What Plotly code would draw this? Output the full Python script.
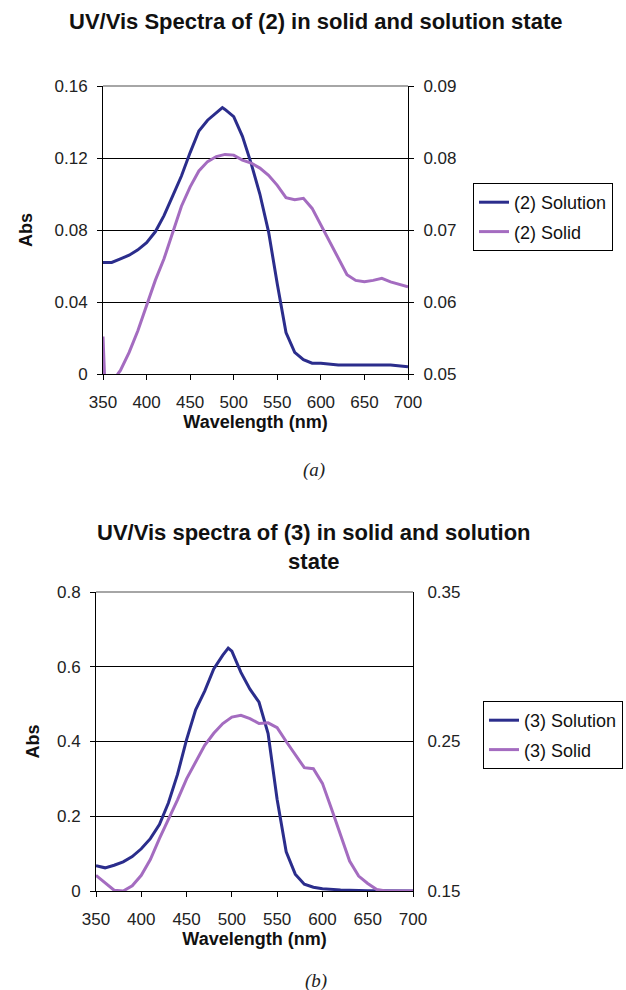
import plotly.graph_objects as go

# ---------------- data (a): compound (2) ----------------
wl_sol2 = [350, 360, 370, 380, 390, 400, 410, 420, 430, 440, 450, 460, 470, 480, 487, 490,
           500, 510, 520, 530, 540, 550, 560, 570, 580, 590, 600, 620, 640, 660, 680, 700]
abs_sol2 = [0.062, 0.062, 0.064, 0.066, 0.069, 0.073, 0.079, 0.088, 0.099, 0.110, 0.123, 0.135,
            0.141, 0.145, 0.148, 0.147, 0.143, 0.132, 0.117, 0.100, 0.079, 0.050, 0.023, 0.012,
            0.008, 0.006, 0.006, 0.005, 0.005, 0.005, 0.005, 0.004]

wl_solid2 = [350, 353, 360, 367, 370, 380, 390, 400, 410, 420, 430, 440, 450, 460, 470, 480, 490,
             500, 510, 520, 530, 540, 550, 560, 570, 580, 590, 600, 610, 620, 630, 640, 650,
             660, 670, 680, 690, 700]
abs_solid2 = [0.0552, 0.0460, 0.0475, 0.0500, 0.0505, 0.0530, 0.0560, 0.0594, 0.0630, 0.0660,
              0.0695, 0.0733, 0.0760, 0.0782, 0.0795, 0.0802, 0.0805, 0.0804, 0.0797, 0.0793,
              0.0786, 0.0776, 0.0762, 0.0745, 0.0742, 0.0744, 0.0730, 0.0707, 0.0683, 0.0660,
              0.0638, 0.0630, 0.0628, 0.0630, 0.0633, 0.0628, 0.0625, 0.0621]

# ---------------- data (b): compound (3) ----------------
wl_sol3 = [350, 360, 370, 380, 390, 400, 410, 420, 430, 440, 450, 460, 470, 480, 490, 496,
           500, 510, 520, 530, 540, 550, 560, 570, 580, 590, 600, 620, 650, 700]
abs_sol3 = [0.068, 0.062, 0.069, 0.078, 0.092, 0.113, 0.140, 0.178, 0.236, 0.312, 0.405, 0.485,
            0.535, 0.594, 0.631, 0.650, 0.642, 0.585, 0.540, 0.505, 0.421, 0.245, 0.105, 0.045,
            0.018, 0.010, 0.006, 0.003, 0.001, 0.000]

wl_solid3 = [350, 360, 370, 380, 390, 400, 410, 420, 430, 440, 450, 460, 470, 480, 490, 500,
             510, 520, 530, 540, 550, 560, 570, 580, 590, 600, 610, 620, 630, 640, 650, 660,
             670, 700]
abs_solid3 = [0.1605, 0.1555, 0.1505, 0.1500, 0.1535, 0.1605, 0.1710, 0.1850, 0.1975, 0.2110,
              0.2250, 0.2363, 0.2475, 0.2555, 0.2620, 0.2663, 0.2675, 0.2653, 0.2620, 0.2625,
              0.2593, 0.2500, 0.2415, 0.2325, 0.2318, 0.2220, 0.2050, 0.1880, 0.1700, 0.1600,
              0.1550, 0.1510, 0.1500, 0.1500]

x_ticks = [350, 400, 450, 500, 550, 600, 650, 700]
left_ticks_a = [0, 0.04, 0.08, 0.12, 0.16]
right_ticks_a = [0.05, 0.06, 0.07, 0.08, 0.09]
left_ticks_b = [0, 0.2, 0.4, 0.6, 0.8]
right_ticks_b = [0.15, 0.25, 0.35]

names = ["(2) Solution", "(2) Solid", "(3) Solution", "(3) Solid"]
titles = ["<b>UV/Vis Spectra of (2) in solid and solution state</b>",
          "<b>UV/Vis spectra of (3) in solid and solution<br>state</b>"]
captions = ["<i>(a)</i>", "<i>(b)</i>"]

W, H = 626, 990
NAVY = "#2B2D8C"
LILAC = "#A46CC0"
TICKFONT = dict(family="Liberation Sans, Arial", size=17, color="#222")
TITLEFONT = dict(family="Liberation Sans, Arial", size=18, color="#111")
LEGFONT = dict(family="Liberation Sans, Arial", size=18, color="#111")


def px(x):
    return x / W


def py(y):
    return 1 - y / H


fig = go.Figure()
fig.add_trace(go.Scatter(x=wl_sol2, y=abs_sol2, name=names[0], mode="lines", legendgroup="a1",
                         line=dict(color=NAVY, width=3), xaxis="x", yaxis="y", legend="legend"))
fig.add_trace(go.Scatter(x=wl_solid2, y=abs_solid2, name=names[1], mode="lines", legendgroup="a2",
                         line=dict(color=LILAC, width=3), xaxis="x", yaxis="y2", legend="legend"))
fig.add_trace(go.Scatter(x=wl_sol3, y=abs_sol3, name=names[2], mode="lines", legendgroup="b1",
                         line=dict(color=NAVY, width=3), xaxis="x2", yaxis="y3", legend="legend2"))
fig.add_trace(go.Scatter(x=wl_solid3, y=abs_solid3, name=names[3], mode="lines", legendgroup="b2",
                         line=dict(color=LILAC, width=3), xaxis="x2", yaxis="y4", legend="legend2"))

common_x = dict(range=[350, 700], tickvals=x_ticks, showline=True, linecolor="black", linewidth=1,
                ticks="outside", ticklen=5, tickcolor="black", showgrid=False, zeroline=False,
                tickfont=TICKFONT, title_font=TITLEFONT, ticklabelstandoff=8)
common_y = dict(showline=True, linecolor="black", linewidth=1, ticks="outside", ticklen=5,
                tickcolor="black", zeroline=False, tickfont=TICKFONT, title_font=TITLEFONT,
                ticklabelstandoff=6)

fig.update_layout(
    width=W, height=H,
    margin=dict(l=0, r=0, t=0, b=0, autoexpand=False),
    paper_bgcolor="white", plot_bgcolor="white",
    xaxis=dict(common_x, domain=[px(103), px(408)], anchor="y",
               title=dict(text="<b>Wavelength (nm)</b>", standoff=0)),
    yaxis=dict(common_y, domain=[py(374), py(86)], anchor="x", range=[0, 0.16],
               tickvals=left_ticks_a, ticktext=["0", "0.04", "0.08", "0.12", "0.16"],
               showgrid=True, gridcolor="black", gridwidth=1,
               title=dict(text="<b>Abs</b>", standoff=17)),
    yaxis2=dict(common_y, overlaying="y", side="right", anchor="x", range=[0.05, 0.09],
                tickvals=right_ticks_a, ticktext=["0.05", "0.06", "0.07", "0.08", "0.09"],
                showgrid=False),
    xaxis2=dict(common_x, domain=[px(96), px(413)], anchor="y3",
                title=dict(text="<b>Wavelength (nm)</b>", standoff=0)),
    yaxis3=dict(common_y, domain=[py(891), py(592)], anchor="x2", range=[0, 0.8],
                tickvals=left_ticks_b, ticktext=["0", "0.2", "0.4", "0.6", "0.8"],
                showgrid=True, gridcolor="black", gridwidth=1,
                title=dict(text="<b>Abs</b>", standoff=12)),
    yaxis4=dict(common_y, overlaying="y3", side="right", anchor="x2", range=[0.15, 0.35],
                tickvals=right_ticks_b, ticktext=["0.15", "0.25", "0.35"],
                showgrid=False, ticks="", ticklabelstandoff=10),
    legend=dict(x=px(473), y=py(183), xanchor="left", yanchor="top",
                bordercolor="black", borderwidth=1, bgcolor="white",
                font=LEGFONT, tracegroupgap=3, itemwidth=30),
    legend2=dict(x=px(483), y=py(701), xanchor="left", yanchor="top",
                 bordercolor="black", borderwidth=1, bgcolor="white",
                 font=LEGFONT, tracegroupgap=3, itemwidth=30),
    showlegend=True,
)

# gray top borders of the plot frames
for xr, yr in (("x domain", "y domain"), ("x2 domain", "y3 domain")):
    fig.add_shape(type="line", xref=xr, yref=yr, x0=0, x1=1, y0=1, y1=1,
                  line=dict(color="#888", width=1.5), layer="below")

fig.add_annotation(text=titles[0], x=px(315), y=py(21), xref="paper", yref="paper",
                   showarrow=False, xanchor="center", yanchor="middle",
                   font=dict(family="Liberation Sans, Arial", size=22, color="#111"))
fig.add_annotation(text=titles[1], x=px(314), y=py(547), xref="paper", yref="paper",
                   showarrow=False, xanchor="center", yanchor="middle",
                   font=dict(family="Liberation Sans, Arial", size=22, color="#111"))
fig.add_annotation(text=captions[0], x=px(314), y=py(470), xref="paper", yref="paper",
                   showarrow=False, xanchor="center", yanchor="middle",
                   font=dict(family="Liberation Serif, Times New Roman", size=19, color="#222"))
fig.add_annotation(text=captions[1], x=px(316), y=py(981), xref="paper", yref="paper",
                   showarrow=False, xanchor="center", yanchor="middle",
                   font=dict(family="Liberation Serif, Times New Roman", size=19, color="#222"))

fig.write_html("out.html")
